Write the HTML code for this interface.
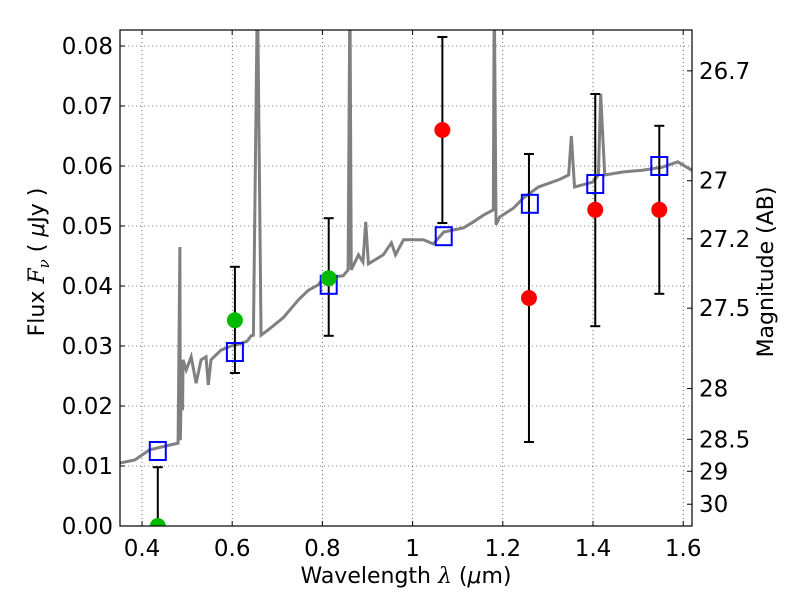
<!DOCTYPE html>
<html><head><meta charset="utf-8">
<style>
body{margin:0;background:#fff;}
svg{display:block;font-family:"DejaVu Sans","Liberation Sans",sans-serif;}
</style></head>
<body>
<svg id="chart" width="800" height="600" viewBox="0 0 800 600"></svg>
<script>
const xTicks=[0.4,0.6,0.8,1.0,1.2,1.4,1.6];
const xTickLabels=["0.4","0.6","0.8","1","1.2","1.4","1.6"];
const yTicks=[0,0.01,0.02,0.03,0.04,0.05,0.06,0.07,0.08];
const yTickLabels=["0.00","0.01","0.02","0.03","0.04","0.05","0.06","0.07","0.08"];
const magTicks=[26.7,27,27.2,27.5,28,28.5,29,30];
const magTickLabels=["26.7","27","27.2","27.5","28","28.5","29","30"];
const bandWave=[0.435,0.606,0.814,1.069,1.26,1.405,1.547];
const modelFlux=[0.0125,0.029,0.0402,0.0483,0.0537,0.057,0.060];
const obsWave=[0.435,0.606,0.814,1.066,1.258,1.405,1.547];
const obsFlux=[0.0,0.0343,0.0413,0.066,0.038,0.0527,0.0527];
const obsColor=["#00bb00","#00bb00","#00bb00","red","red","red","red"];
const errLow=[0.0,0.0255,0.0317,0.0505,0.014,0.0333,0.0387];
const errHigh=[0.0098,0.0432,0.0513,0.0815,0.062,0.072,0.0667];
const specWave=[0.351,0.384,0.417,0.462,0.480,0.484,0.485,0.487,0.490,0.491,0.498,0.509,0.520,0.531,0.542,0.547,0.553,0.575,0.597,0.615,0.633,0.642,0.647,0.656,0.664,0.680,0.713,0.747,0.769,0.791,0.802,0.824,0.846,0.857,0.861,0.864,0.880,0.890,0.896,0.902,0.935,0.953,0.962,0.980,1.024,1.046,1.069,1.113,1.135,1.157,1.179,1.181,1.185,1.193,1.224,1.246,1.279,1.324,1.346,1.352,1.359,1.399,1.412,1.417,1.426,1.466,1.510,1.554,1.588,1.610,1.626];
const specFlux=[0.0105,0.011,0.0127,0.0135,0.0138,0.0465,0.0143,0.0227,0.0193,0.0277,0.026,0.0282,0.0238,0.0277,0.0282,0.0235,0.0277,0.0293,0.030,0.0303,0.0308,0.0317,0.0318,0.09,0.0318,0.0327,0.0347,0.0377,0.0393,0.0402,0.0413,0.0415,0.0417,0.0427,0.09,0.0427,0.0452,0.044,0.0507,0.0437,0.0452,0.0472,0.0452,0.0477,0.0477,0.047,0.0490,0.0497,0.0507,0.0518,0.0527,0.09,0.0502,0.0515,0.0530,0.0547,0.0565,0.0577,0.0585,0.0650,0.0565,0.0573,0.0585,0.0720,0.0585,0.059,0.0593,0.0598,0.0607,0.0597,0.059];

const NS="http://www.w3.org/2000/svg";
const svg=document.getElementById('chart');
const L=120,R=692,T=30,B=526;
const X=v=>142+(v-0.4)*451;
const Y=f=>B-f*6000;
const magToFlux=m=>Math.pow(10,(23.9-m)/2.5);
function el(tag,attrs,parent){const e=document.createElementNS(NS,tag);for(const k in attrs)e.setAttribute(k,attrs[k]);(parent||svg).appendChild(e);return e;}
const defs=el('defs',{});
const cp=el('clipPath',{id:'clip'},defs);el('rect',{x:L,y:T,width:R-L,height:B-T},cp);

const grid=el('g',{});


xTicks.forEach(v=>{el('line',{x1:X(v),x2:X(v),y1:T,y2:B,stroke:'#000','stroke-width':0.6,'stroke-dasharray':'1,3'},grid);});
yTicks.forEach(v=>{el('line',{x1:L,x2:R,y1:Y(v),y2:Y(v),stroke:'#000','stroke-width':0.6,'stroke-dasharray':'1,3'},grid);});

const spec=el('polyline',{points:specWave.map((w,i)=>X(w)+','+Y(specFlux[i])).join(' '),fill:'none',stroke:'#808080','stroke-width':3,'clip-path':'url(#clip)'});



obsWave.forEach((w,i)=>{
  const g=el('g',{'clip-path':'url(#clip)'});
  
  
  el('line',{x1:X(w),x2:X(w),y1:Y(errLow[i]),y2:Y(errHigh[i]),stroke:'#000','stroke-width':2},g);
  el('line',{x1:X(w)-5,x2:X(w)+5,y1:Y(errLow[i]),y2:Y(errLow[i]),stroke:'#000','stroke-width':2},g);
  el('line',{x1:X(w)-5,x2:X(w)+5,y1:Y(errHigh[i]),y2:Y(errHigh[i]),stroke:'#000','stroke-width':2},g);
});
bandWave.forEach((w,i)=>{
  const r=el('rect',{x:X(w)-8,y:Y(modelFlux[i])-9,width:16,height:18,fill:'none',stroke:'#0000ff','stroke-width':2});
  
  
});
obsWave.forEach((w,i)=>{
  const c=el('circle',{cx:X(w),cy:Y(obsFlux[i]),r:8,fill:obsColor[i],'clip-path':'url(#clip)'});
  
  
});

const frame=el('rect',{x:L,y:T,width:R-L,height:B-T,fill:'none',stroke:'#000','stroke-width':1.2});



xTicks.forEach((v,i)=>{
  el('line',{x1:X(v),x2:X(v),y1:B,y2:B-5,stroke:'#000'});
  el('line',{x1:X(v),x2:X(v),y1:T,y2:T+5,stroke:'#000'});
  const t=el('text',{x:X(v),y:B+30,'font-size':23,'text-anchor':'middle'});t.textContent=xTickLabels[i];
  
  
});
yTicks.forEach((v,i)=>{
  el('line',{x1:L,x2:L+5,y1:Y(v),y2:Y(v),stroke:'#000'});
  const t=el('text',{x:L-7,y:Y(v)+8,'font-size':23,'text-anchor':'end'});t.textContent=yTickLabels[i];
  
  
});
magTicks.forEach((m,i)=>{
  const y=Y(magToFlux(m));
  el('line',{x1:R,x2:R-5,y1:y,y2:y,stroke:'#000'});
  const t=el('text',{x:R+7,y:y+8,'font-size':23});t.textContent=magTickLabels[i];
  
  
});
</script>
<svg width="800" height="600" style="position:absolute;left:0;top:0;font-family:'DejaVu Sans','Liberation Sans',sans-serif">
<text x="406" y="583" font-size="22" text-anchor="middle">Wavelength  <tspan font-style="italic" font-family="DejaVu Serif, serif">λ</tspan> (<tspan font-style="italic">μ</tspan>m)</text>
<text transform="translate(44,262) rotate(-90)" font-size="22" text-anchor="middle">Flux  <tspan font-style="italic" font-family="DejaVu Serif, serif">F<tspan font-size="15" dy="5">ν</tspan></tspan><tspan dy="-5">  (  </tspan><tspan font-style="italic">μ</tspan>Jy )</text>
<text transform="translate(773,272) rotate(-90)" font-size="22" text-anchor="middle">Magnitude (AB)</text>
</svg>
</body></html>
